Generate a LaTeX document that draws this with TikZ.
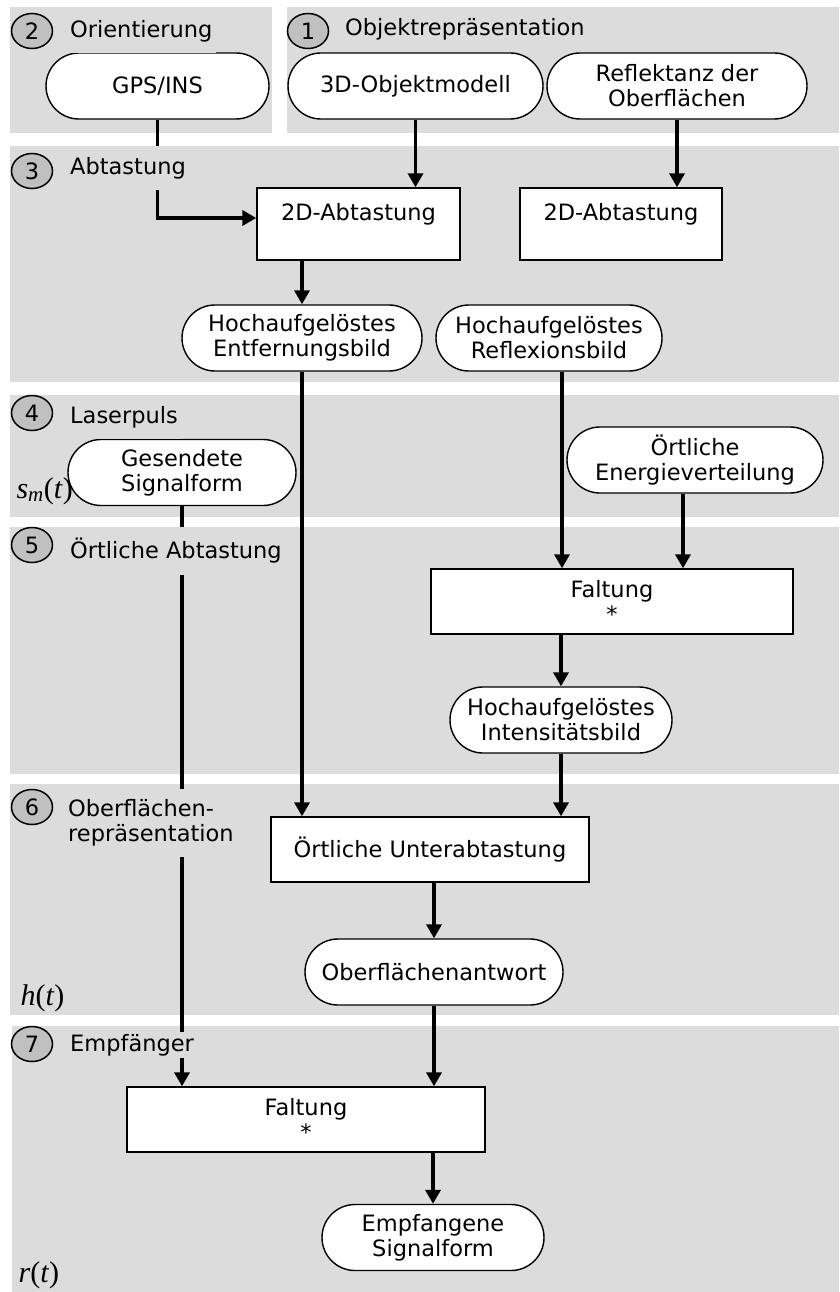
\documentclass[tikz,border=0pt]{standalone}
\usepackage{fontspec}
\setmainfont{DejaVu Sans}
\newfontfamily\timesfont{Liberation Serif}
\usetikzlibrary{shapes.misc,shapes.geometric,arrows.meta}
\definecolor{bandgray}{HTML}{DCDCDC}
\definecolor{numgray}{HTML}{C0C0C0}
\begin{document}
\begin{tikzpicture}[x=1pt,y=-1pt,
	every node/.style={font=\fontsize{22.5}{25}\selectfont},
	numnode/.style={ellipse,draw,line width=1.5pt,fill=numgray,minimum width=41,minimum height=35,inner sep=0pt},
	lbl/.style={anchor=west,fill=bandgray,inner xsep=4pt,inner ysep=11pt,align=left},
	pill/.style={rounded rectangle,draw,line width=1.4pt,fill=white,align=center,minimum height=66,inner sep=0pt},
	box/.style={rectangle,draw,line width=1.4pt,fill=white,align=center,minimum height=65,inner sep=0pt},
	flow/.style={line width=3.5pt,-{Triangle[length=14pt,width=15pt]}},
	mathlbl/.style={anchor=base west,font=\fontsize{30}{30}\timesfont}]
	\useasboundingbox (0,0) rectangle (839,1292);
	% bands
	\fill [bandgray] (10,7) rectangle (272,133);
	\fill [bandgray] (287,7) rectangle (839,133);
	\fill [bandgray] (10,146) rectangle (839,382);
	\fill [bandgray] (10,395) rectangle (839,517);
	\fill [bandgray] (10,527) rectangle (839,774);
	\fill [bandgray] (10,784) rectangle (839,1015);
	\fill [bandgray] (12,1026) rectangle (839,1292);
	% numbers
	\node [numnode] (n2) at (32,31) {2};
	\node [numnode] (n1) at (308,31) {1};
	\node [numnode] (n3) at (32,171) {3};
	\node [numnode] (n4) at (32,413) {4};
	\node [numnode] (n5) at (32,545) {5};
	\node [numnode] (n6) at (32,807) {6};
	\node [numnode] (n7) at (32,1044) {7};
	% blocks
	\node [pill,minimum width=223] (gps) at (157.5,86) {GPS/INS};
	\node [pill,minimum width=255] (objmodell) at (415.5,86) {3D-Objektmodell};
	\node [pill,minimum width=260] (reflektanz) at (677,86) {Reflektanz der\\Oberflächen};
	\node [box,minimum width=203,minimum height=72] (abtast1) at (358.5,224) {2D-Abtastung\\\mbox{}};
	\node [box,minimum width=202,minimum height=72] (abtast2) at (621,224) {2D-Abtastung\\\mbox{}};
	\node [pill,minimum width=240] (entfernung) at (302,338) {Hochaufgelöstes\\Entfernungsbild};
	\node [pill,minimum width=226] (reflexion) at (549,338) {Hochaufgelöstes\\Reflexionsbild};
	\node [pill,minimum width=256] (energie) at (695,460) {Örtliche\\Energieverteilung};
	\node [pill,minimum width=228] (gesendet) at (182,472.5) {Gesendete\\Signalform};
	\node [box,minimum width=362] (faltung1) at (612,601.5) {Faltung\\*};
	\node [pill,minimum width=222] (intensitaet) at (561,720) {Hochaufgelöstes\\Intensitätsbild};
	\node [box,minimum width=318] (unterabtast) at (430,849.5) {Örtliche Unterabtastung};
	\node [pill,minimum width=258] (antwort) at (434,972) {Oberflächenantwort};
	\node [box,minimum width=358] (faltung2) at (306,1119.5) {Faltung\\*};
	\node [pill,minimum width=222] (empfangen) at (433,1237.5) {Empfangene\\Signalform};
	% connectors
	\draw [flow] (gps.south) |- ([yshift=6pt]abtast1.west);
	\draw [flow] (objmodell.south) -- (objmodell.south |- abtast1.north);
	\draw [flow] (reflektanz.south) -- (reflektanz.south |- abtast2.north);
	\draw [flow] (entfernung.north |- abtast1.south) -- (entfernung.north);
	\draw [flow] (entfernung.south) -- (entfernung.south |- unterabtast.north);
	\coordinate (reflexout) at (562,0);
	\draw [flow] (reflexout |- reflexion.south) -- (reflexout |- faltung1.north);
	\coordinate (energieout) at (683,0);
	\draw [flow] (energieout |- energie.south) -- (energieout |- faltung1.north);
	\draw [flow] (intensitaet.north |- faltung1.south) -- (intensitaet.north);
	\draw [flow] (intensitaet.south) -- (intensitaet.south |- unterabtast.north);
	\draw [flow] (antwort.north |- unterabtast.south) -- (antwort.north);
	\draw [flow] (antwort.south) -- (antwort.south |- faltung2.north);
	\draw [flow] (gesendet.south) -- (gesendet.south |- faltung2.north);
	\draw [flow] (empfangen.north |- faltung2.south) -- (empfangen.north);
	% band labels
	\node [lbl] (l2) at (66,31) {Orientierung};
	\node [lbl] (l1) at (341,29) {Objektrepräsentation};
	\node [lbl] (l3) at (66,168) {Abtastung};
	\node [lbl] (l4) at (66,417) {Laserpuls};
	\node [lbl] (l5) at (66,551) {Örtliche Abtastung};
	\node [lbl] (l6) at (64,823) {Oberflächen-\\repräsentation};
	\node [lbl,inner ysep=2pt] (l7) at (66,1045) {Empfänger};
	% signals
	\node [mathlbl] (sm) at (13,498) {\textit{s}\textsubscript{\textit{m}}(\textit{t})};
	\node [mathlbl] (ht) at (17,1005) {\textit{h}(\textit{t})};
	\node [mathlbl] (rt) at (15,1282) {\textit{r}(\textit{t})};
\end{tikzpicture}
\end{document}
